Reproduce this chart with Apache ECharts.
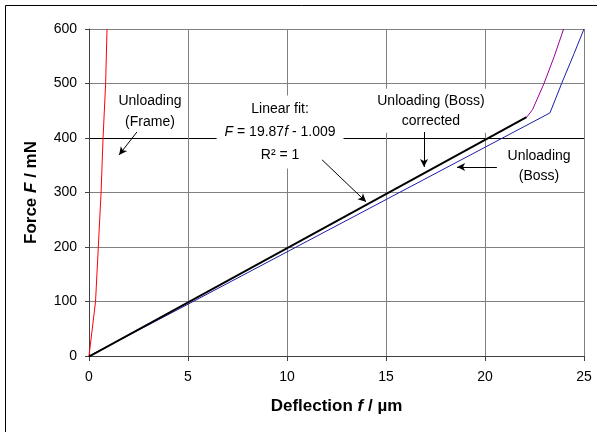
<!DOCTYPE html>
<html>
<head>
<meta charset="utf-8">
<script src="https://cdn.jsdelivr.net/npm/echarts@6/dist/echarts.min.js"></script>
<style>
  html, body { margin: 0; padding: 0; background: #fff; }
  #chart { width: 597px; height: 432px; }
</style>
</head>
<body>
<div id="chart"></div>
<script>
// deflection f (um), force F (mN)
const frameData = [[0, 0], [0.33, 100], [0.47, 200], [0.61, 300], [0.71, 400], [0.84, 500], [0.91, 600]];
const bossData = [[0, 0], [5, 95], [10, 191], [15, 287], [20, 383], [23.28, 446], [23.87, 500], [24.5, 555], [25, 600]];
const correctedData = [[22.1, 438], [22.4, 452], [22.98, 500], [23.5, 550], [23.97, 600]];
const fitData = [[0, -1.009], [22.1, 438.1]];

const xTicks = { min: 0, max: 25, interval: 5 };
const yTicks = { min: 0, max: 600, interval: 100 };

// annotations, in data units
const arrows = [
  [[2.42, 411], [1.52, 369]],
  [[11.77, 360], [13.99, 283]],
  [[16.92, 411], [16.92, 347]],
  [[20.6, 347], [18.59, 347]]
];
const notes = [
  { at: [3.08, 449], text: 'Unloading\n(Frame)', lh: 21, pad: [2, 3] },
  { at: [9.65, 411], text: 'Linear fit:\n{i|F} = 19.87{i|f} - 1.009\nR² = 1', lh: 23, pad: [2, 8] },
  { at: [17.27, 450], text: 'Unloading (Boss)\ncorrected', lh: 20, pad: [2, 3] },
  { at: [22.73, 348], text: 'Unloading\n(Boss)', lh: 20, pad: [2, 3] }
];

const font = "'Liberation Sans', Arial, sans-serif";
const chart = echarts.init(document.getElementById('chart'));

const gridColors = ['#808080', '#808080', '#808080', '#808080', '#000000', '#808080', '#808080'];

chart.setOption({
  animation: false,
  grid: { left: 89, right: 13, top: 29, bottom: 76 },
  xAxis: {
    type: 'value',
    min: xTicks.min, max: xTicks.max, interval: xTicks.interval,
    name: '{b|Deflection }{bi|f}{b| / µm}',
    nameLocation: 'middle',
    nameGap: 42,
    nameTextStyle: {
      rich: {
        b: { fontFamily: font, fontSize: 17, fontWeight: 'bold', color: '#000' },
        bi: { fontFamily: font, fontSize: 17, fontWeight: 'bold', fontStyle: 'italic', color: '#000' }
      }
    },
    axisLine: { lineStyle: { color: '#404040', width: 1 } },
    axisTick: { length: 5, lineStyle: { color: '#404040' } },
    axisLabel: { color: '#000', fontFamily: font, fontSize: 14, margin: 14 },
    splitLine: { show: true, lineStyle: { color: '#808080', width: 1 } }
  },
  yAxis: {
    type: 'value',
    min: yTicks.min, max: yTicks.max, interval: yTicks.interval,
    name: '{b|Force }{bi|F}{b| / mN}',
    nameLocation: 'middle',
    nameGap: 49,
    nameRotate: 90,
    nameTextStyle: {
      rich: {
        b: { fontFamily: font, fontSize: 17, fontWeight: 'bold', color: '#000' },
        bi: { fontFamily: font, fontSize: 17, fontWeight: 'bold', fontStyle: 'italic', color: '#000' }
      }
    },
    axisLine: { show: true, lineStyle: { color: '#404040', width: 1 } },
    axisTick: { show: true, length: 4, lineStyle: { color: '#404040' } },
    axisLabel: { color: '#000', fontFamily: font, fontSize: 14, margin: 12 },
    splitLine: { show: true, lineStyle: { color: gridColors, width: 1 } }
  },
  series: [
    {
      name: 'Unloading (Frame)', type: 'line', data: frameData,
      showSymbol: false, lineStyle: { color: '#ff0000', width: 1 }
    },
    {
      name: 'Unloading (Boss)', type: 'line', data: bossData,
      showSymbol: false, lineStyle: { color: '#1c1ca8', width: 1 }
    },
    {
      name: 'Unloading (Boss) corrected', type: 'line', data: correctedData,
      showSymbol: false, lineStyle: { color: '#990099', width: 1 }
    },
    {
      name: 'Linear fit', type: 'line', data: fitData,
      showSymbol: false, lineStyle: { color: '#000', width: 2 },
      markLine: {
        silent: true,
        symbol: ['none', 'arrow'],
        symbolSize: [6, 8],
        label: { show: false },
        lineStyle: { color: '#000', width: 1, type: 'solid' },
        data: arrows.map(a => [{ coord: a[0] }, { coord: a[1] }])
      }
    }
  ]
});

chart.setOption({
  graphic: [
    {
      type: 'rect', silent: true, z: 10,
      shape: { x: 5.5, y: 5.5, width: 800, height: 800 },
      style: { fill: 'none', stroke: '#000', lineWidth: 1 }
    }
  ].concat(notes.map(n => {
    const p = chart.convertToPixel({ gridIndex: 0 }, n.at);
    return {
      type: 'text', silent: true, z: 1,
      x: p[0], y: p[1],
      style: {
        text: n.text,
        font: '14px ' + font,
        fill: '#000',
        align: 'center',
        verticalAlign: 'middle',
        lineHeight: n.lh,
        backgroundColor: '#fff',
        padding: n.pad,
        rich: { i: { fontStyle: 'italic', fontFamily: font, fontSize: 14, lineHeight: n.lh } }
      }
    };
  }))
});
</script>
</body>
</html>
